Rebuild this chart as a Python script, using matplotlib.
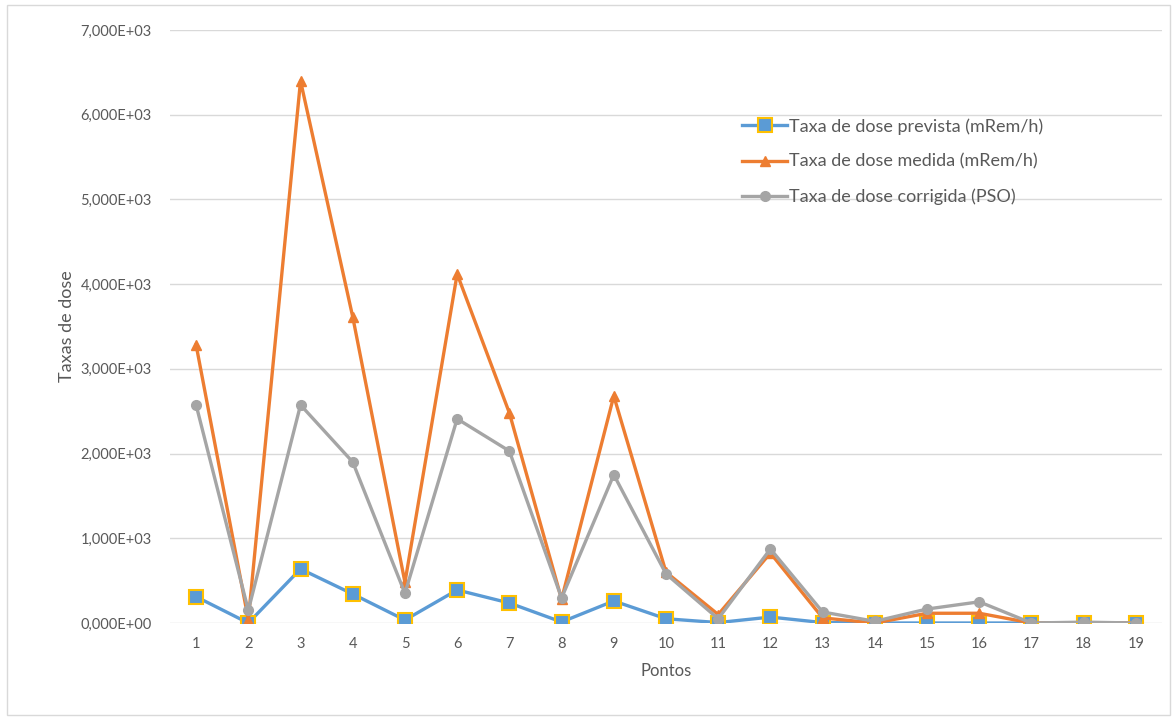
import matplotlib.pyplot as plt
from matplotlib.patches import Rectangle
from matplotlib.ticker import FuncFormatter

# Dados
pontos = list(range(1, 20))
prevista = [310, 0, 638, 342, 35, 390, 236, 12, 260, 50, 5, 70, 5, 0, 0, 0, 0, 0, 0]
medida = [3282, 40, 6400, 3613, 480, 4120, 2480, 280, 2680, 600, 100, 826, 60, 0, 115, 115, 0, 0, 0]
corrigida = [2574, 150, 2574, 1900, 350, 2410, 2030, 295, 1750, 580, 50, 874, 130, 20, 165, 250, 0, 10, 0]

plt.rcParams['font.family'] = ['Lato', 'DejaVu Sans']
texto = '#595959'

fig = plt.figure(figsize=(11.73, 7.18), dpi=100)
ax = fig.add_axes([170 / 1173, 1 - 623 / 718, (1162 - 170) / 1173, (623 - 30) / 718])

# Borda do gráfico
fig.patches.append(Rectangle((7 / 1173, 3 / 718), 1163 / 1173, 710 / 718, transform=fig.transFigure,
                             fill=False, edgecolor='#D9D9D9', linewidth=1))

ax.plot(pontos, prevista, color='#5B9BD5', linewidth=2.4, marker='s', markersize=10,
        markerfacecolor='#5B9BD5', markeredgecolor='#FFC000', markeredgewidth=1.5,
        label='Taxa de dose prevista (mRem/h)', zorder=3)
ax.plot(pontos, medida, color='#ED7D31', linewidth=2.4, marker='^', markersize=7,
        label='Taxa de dose medida (mRem/h)', zorder=4)
ax.plot(pontos, corrigida, color='#A5A5A5', linewidth=2.4, marker='o', markersize=7,
        label='Taxa de dose corrigida (PSO)', zorder=5)

ax.set_xlim(0.5, 19.5)
ax.set_ylim(0, 7000)
ax.set_xticks(pontos)
ax.set_yticks(range(0, 7001, 1000))
ax.yaxis.set_major_formatter(FuncFormatter(lambda v, p: f'{v:.3E}'.replace('.', ',')))
ax.grid(axis='y', color='#D9D9D9', linewidth=1)
ax.set_axisbelow(True)
for s in ax.spines.values():
    s.set_visible(False)
ax.tick_params(length=0, colors=texto, labelsize=10.5)
ax.tick_params(axis='x', pad=10)
ax.tick_params(axis='y', pad=13)

ax.set_xlabel('Pontos', color=texto, fontsize=12, labelpad=9)
ax.set_ylabel('Taxas de dose', color=texto, fontsize=13, labelpad=4)

leg = ax.legend(loc='upper left', bbox_to_anchor=(726 / 1173, 1 - 102 / 718), bbox_transform=fig.transFigure,
                frameon=False, fontsize=13, handlelength=2.5, handletextpad=0.1, labelspacing=1.05)
for t in leg.get_texts():
    t.set_color(texto)

fig.savefig('out.png', dpi=100)
